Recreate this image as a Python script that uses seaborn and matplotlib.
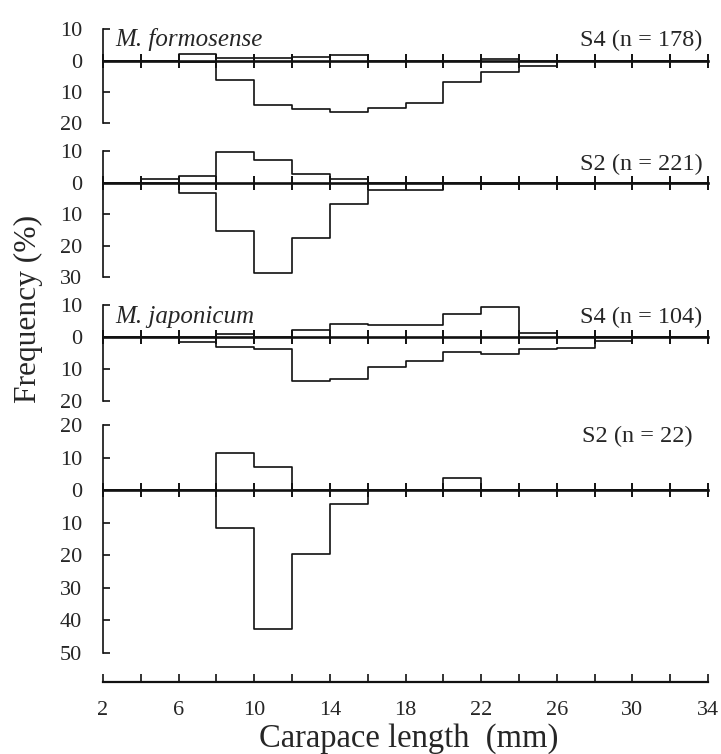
import numpy as np
import pandas as pd
import matplotlib
matplotlib.use("Agg")
import matplotlib.pyplot as plt
import seaborn as sns

# Carapace-length classes (mm): 2-4, 4-6, ..., 32-34
bin_edges = np.arange(2, 36, 2)
bin_mid = bin_edges[:-1] + 1

# Frequency (%) per 2-mm class; "upper" drawn above the zero line, "lower" below it
form_s4_upper = [0, 0, 2.0, 0.8, 0.8, 1.1, 1.7, 0, 0, 0, 0.6, 0, 0, 0, 0, 0]
form_s4_lower = [0, 0, 0.5, 6.3, 14.0, 15.5, 16.5, 15.1, 13.4, 6.7, 3.6, 1.8, 0, 0, 0, 0]

form_s2_upper = [0, 1.0, 2.2, 9.6, 7.2, 2.6, 1.1, 0, 0, 0, 0, 0, 0, 0, 0, 0]
form_s2_lower = [0, 0, 3.3, 15.2, 28.6, 17.5, 6.8, 2.2, 2.2, 0, 0.45, 0, 0.45, 0, 0, 0]

japo_s4_upper = [0, 0, 0, 0.8, 0, 2.2, 4.2, 3.6, 3.6, 7.3, 9.4, 1.3, 0, 0, 0, 0]
japo_s4_lower = [0, 0, 1.7, 3.2, 3.6, 13.9, 13.1, 9.4, 7.4, 4.8, 5.3, 3.9, 3.3, 1.3, 0, 0]

japo_s2_upper = [0, 0, 0, 11.3, 7.2, 0, 0, 0, 0, 3.6, 0, 0, 0, 0, 0, 0]
japo_s2_lower = [0, 0, 0, 11.8, 42.6, 19.6, 4.2, 0, 0, 0, 0, 0, 0, 0, 0, 0]

species = ["M. formosense", "", "M. japonicum", ""]
samples = ["S4 (n = 178)", "S2 (n = 221)", "S4 (n = 104)", "S2 (n = 22)"]
y_ranges = [(-20, 10), (-30, 10), (-20, 10), (-50, 20)]

sns.set_theme(style="white")
plt.rcParams["font.family"] = ["Liberation Serif", "DejaVu Serif"]

W, H = 721, 754
fig = plt.figure(figsize=(W / 100, H / 100), dpi=100)

x_left, x_right = 103, 708
panel_px = [(29.3, 123.3), (151, 277.3), (305, 401), (425, 652.7)]
label_y = [4.8, 4.0, 4.4, 14.7]
label_right = [33.7, 33.7, 33.7, 33.2]


def frac_box(top, bottom):
    return [x_left / W, 1 - bottom / H, (x_right - x_left) / W, (bottom - top) / H]


panels = [
    (form_s4_upper, form_s4_lower),
    (form_s2_upper, form_s2_lower),
    (japo_s4_upper, japo_s4_lower),
    (japo_s2_upper, japo_s2_lower),
]

for i, (upper, lower) in enumerate(panels):
    ax = fig.add_axes(frac_box(*panel_px[i]))
    ax.patch.set_alpha(0)
    df = pd.DataFrame({
        "cl": bin_mid,
        "upper": upper,
        "lower": -np.asarray(lower, dtype=float),
    })
    for col in ("upper", "lower"):
        sns.histplot(data=df, x="cl", weights=col, binwidth=2,
                     binrange=(bin_edges[0], bin_edges[-1]),
                     element="step", fill=False, color="#111111",
                     linewidth=1.2, ax=ax)

    ymin, ymax = y_ranges[i]
    ax.set_xlim(2, 34)
    ax.set_ylim(ymin, ymax)
    ax.set_xlabel("")
    ax.set_ylabel("")

    # zero line carries the crossing class ticks
    for side in ("top", "right"):
        ax.spines[side].set_visible(False)
    ax.spines["bottom"].set_position(("data", 0))
    ax.spines["bottom"].set_linewidth(1.9)
    ax.spines["bottom"].set_color("#111111")
    ax.spines["left"].set_linewidth(1.2)
    ax.spines["left"].set_color("#111111")
    ax.set_xticks(bin_edges)
    ax.tick_params(axis="x", direction="inout", length=9.5, width=1.4,
                   color="#111111", labelbottom=False, bottom=True)

    yt = np.arange(ymin, ymax + 1, 10)
    ax.set_yticks(yt)
    ax.set_yticklabels([str(abs(int(v))) for v in yt])
    ax.tick_params(axis="y", direction="in", length=5, width=1.2,
                   color="#111111", pad=15, labelsize=16, left=True)

    if species[i]:
        ax.text(2.63, label_y[i], species[i], fontsize=18, style="italic",
                ha="left", va="baseline")
    ax.text(label_right[i], label_y[i], samples[i], fontsize=17.5,
            ha="right", va="baseline")

# shared carapace-length axis
axb = fig.add_axes([x_left / W, 1 - 681.7 / H, (x_right - x_left) / W, 0.001])
axb.patch.set_alpha(0)
for side in ("top", "right", "left"):
    axb.spines[side].set_visible(False)
axb.spines["bottom"].set_linewidth(1.6)
axb.spines["bottom"].set_color("#111111")
axb.set_xlim(2, 34)
axb.set_yticks([])
axb.set_xticks(np.arange(2, 35, 4))
axb.set_xticks(np.arange(4, 34, 4), minor=True)
axb.tick_params(axis="x", which="both", direction="in", length=5.5, width=1.2,
                color="#111111", pad=14, labelsize=16, bottom=True)

fig.text(409 / W, 1 - 739 / H, "Carapace length  (mm)", fontsize=23.5,
         ha="center", va="center")
fig.text(28 / W, 1 - 309 / H, "Frequency (%)", fontsize=22.7, rotation=90,
         ha="center", va="center")

fig.savefig("out.png", dpi=100, facecolor="white")
